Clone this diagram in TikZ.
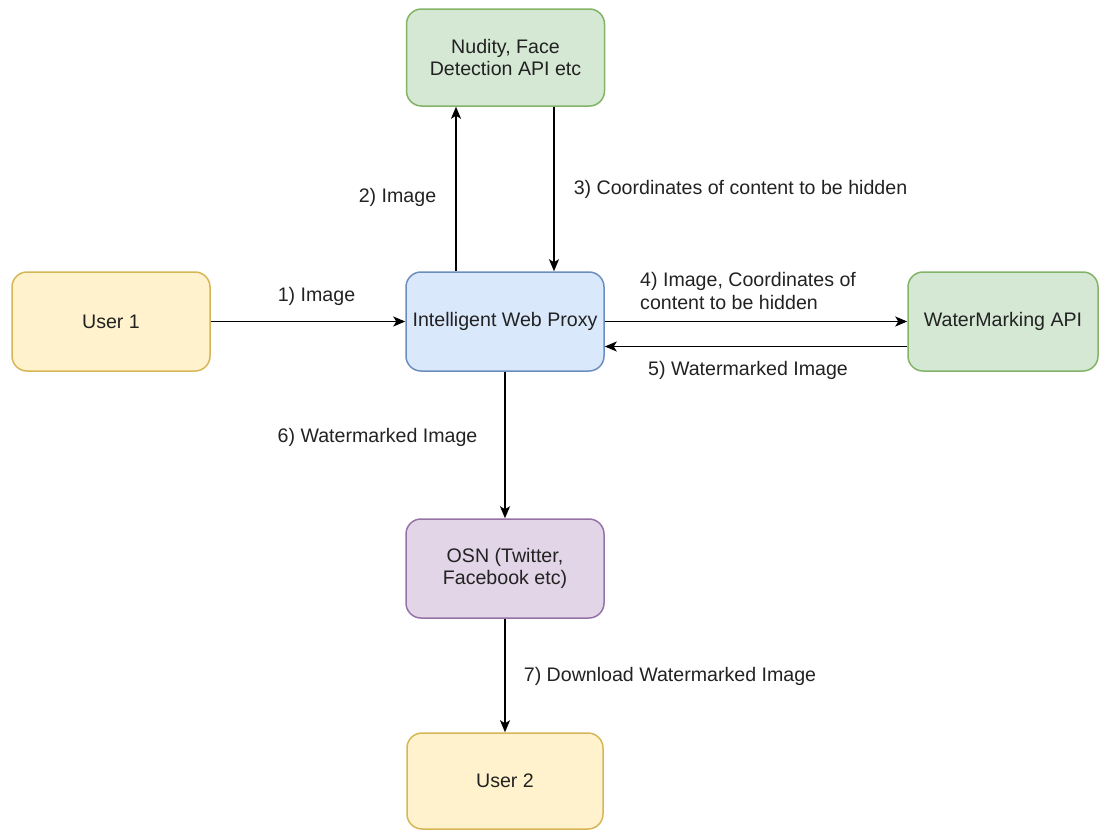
\documentclass[tikz,border=0pt]{standalone}
\usepackage{fontspec}
\setmainfont{Liberation Sans}
\usetikzlibrary{arrows.meta}

\definecolor{greenfill}{HTML}{D5E8D4}
\definecolor{greenline}{HTML}{82B366}
\definecolor{yellowfill}{HTML}{FFF2CC}
\definecolor{yellowline}{HTML}{D6B656}
\definecolor{bluefill}{HTML}{DAE8FC}
\definecolor{blueline}{HTML}{6C8EBF}
\definecolor{purplefill}{HTML}{E1D5E7}
\definecolor{purpleline}{HTML}{9673A6}
\definecolor{txt}{HTML}{222222}

\tikzset{
  box/.style={rectangle, rounded corners=15, line width=1.5, inner sep=0,
    minimum width=198, minimum height=99, align=center, text=txt,
    font=\fontsize{19.6}{22.5}\selectfont},
  greenbox/.style={box, draw=greenline, fill=greenfill},
  yellowbox/.style={box, draw=yellowline, fill=yellowfill},
  bluebox/.style={box, draw=blueline, fill=bluefill},
  purplebox/.style={box, draw=purpleline, fill=purplefill},
  lbl/.style={inner sep=0, text=txt, font=\fontsize{19.6}{22.5}\selectfont},
  flow/.style={line width=1.5, draw=black,
    -{Stealth[length=12, width=10, inset=3]}}
}

\begin{document}
\begin{tikzpicture}[x=1pt, y=-1pt]
  \useasboundingbox (0,0) rectangle (1099,830);

  % boxes
  \node[greenbox, minimum height=97] (detect) at (505.5,57.5) {Nudity, Face\\Detection API etc};
  \node[bluebox] (proxy) at (505,321.5) {Intelligent Web Proxy};
  \node[yellowbox] (user1) at (111,321.5) {User 1};
  \node[greenbox, minimum width=190] (wm) at (1003,321.5) {WaterMarking API};
  \node[purplebox] (osn) at (505,568.5) {OSN (Twitter,\\Facebook etc)};
  \node[yellowbox, minimum width=196, minimum height=96] (user2) at (505,781) {User 2};

  % connectors
  \draw[flow] (user1.east) -- (proxy.west);
  \draw[flow] ([xshift=-49]proxy.north) -- ([xshift=-49.5]detect.south);
  \draw[flow] ([xshift=48.5]detect.south) -- ([xshift=49]proxy.north);
  \draw[flow] (proxy.east) -- (wm.west);
  \draw[flow] ([yshift=-25]wm.west) -- ([yshift=-25]proxy.east);
  \draw[flow] (proxy.south) -- (osn.north);
  \draw[flow] (osn.south) -- (user2.north);

  % connector labels
  \node[lbl] (l1) at (316.5,296) {1) Image};
  \node[lbl] (l2) at (397.5,197) {2) Image};
  \node[lbl] (l3) at (740.5,189) {3) Coordinates of content to be hidden};
  \node[lbl, anchor=west, align=left] (l4) at (640,291) {4) Image, Coordinates of\\content to be hidden};
  \node[lbl] (l5) at (748,370) {5) Watermarked Image};
  \node[lbl] (l6) at (377.5,437) {6) Watermarked Image};
  \node[lbl] (l7) at (670,676) {7) Download Watermarked Image};
\end{tikzpicture}
\end{document}
